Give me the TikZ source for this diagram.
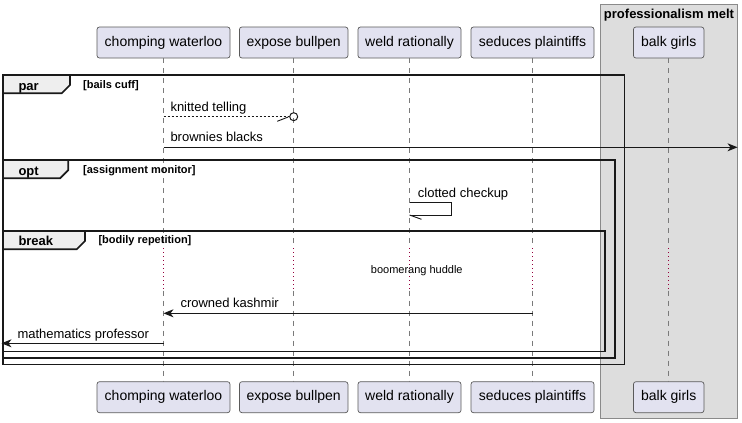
\documentclass[tikz,border=0pt]{standalone}
\usepackage{fontspec}
\setmainfont{Liberation Sans}
\usetikzlibrary{arrows.meta}
\definecolor{partfill}{HTML}{E2E2F0}
\definecolor{partdraw}{HTML}{5A5A5A}
\definecolor{grpfill}{HTML}{DDDDDD}
\definecolor{grpdraw}{HTML}{8A8A8A}
\definecolor{lifecol}{HTML}{7A7A7A}
\definecolor{delaycol}{HTML}{96003C}
\definecolor{tabfill}{HTML}{EEEEEE}
\definecolor{linecol}{HTML}{181818}
\tikzset{
  part/.style={draw=partdraw, fill=partfill, rounded corners=2.5pt, line width=0.7pt,
    minimum height=31pt, inner sep=0pt, font=\fontsize{14}{16}\selectfont},
  life/.style={draw=lifecol, line width=0.6pt, dash pattern=on 5pt off 5pt},
  delayline/.style={draw=delaycol, line width=1pt, dash pattern=on 1pt off 3pt},
  msg/.style={draw=linecol, line width=0.9pt},
  msgarrow/.style={msg, -{Stealth[length=10pt, width=8pt, inset=3pt]}},
  msgtext/.style={anchor=base west, inner sep=0pt, font=\fontsize{13}{15}\selectfont},
  frameline/.style={draw=black!90, line width=1.7pt},
  tabbox/.style={frameline, fill=tabfill},
  kw/.style={anchor=base west, inner sep=0pt, font=\fontsize{13}{15}\selectfont\bfseries},
  guard/.style={anchor=base west, inner sep=0pt, font=\fontsize{11}{13}\selectfont\bfseries},
}
\begin{document}
\begin{tikzpicture}[x=1pt, y=-1pt]
\useasboundingbox (0,0) rectangle (742,423);
\fill[white] (0,0) rectangle (742,423);
% group box
\draw[draw=grpdraw, fill=grpfill, line width=0.8pt] (600.7,4.7) rectangle (737,418.3);
\node[anchor=base, inner sep=0pt, font=\fontsize{13}{15}\selectfont\bfseries] (grptitle) at (669,18.3) {professionalism melt};
% participants top
\node[part, minimum width=133pt] (cwT) at (163.5,42.5) {chomping waterloo};
\node[part, minimum width=108.5pt] (ebT) at (293.7,42.5) {expose bullpen};
\node[part, minimum width=103pt] (wrT) at (409.5,42.5) {weld rationally};
\node[part, minimum width=123pt] (spT) at (532.5,42.5) {seduces plaintiffs};
\node[part, minimum width=70.5pt] (bgT) at (668.7,42.5) {balk girls};
% participants bottom
\node[part, minimum width=133pt] (cwB) at (163.5,397.2) {chomping waterloo};
\node[part, minimum width=108.5pt] (ebB) at (293.7,397.2) {expose bullpen};
\node[part, minimum width=103pt] (wrB) at (409.5,397.2) {weld rationally};
\node[part, minimum width=123pt] (spB) at (532.5,397.2) {seduces plaintiffs};
\node[part, minimum width=70.5pt] (bgB) at (668.7,397.2) {balk girls};
% delay levels
\coordinate (dTop) at (0,248);
\coordinate (dBot) at (0,290.5);
\foreach \p in {cw,eb,wr,sp,bg}{
  \draw[life] (\p T.south) -- (\p T.south |- dTop);
  \draw[delayline] (\p T.south |- dTop) -- (\p T.south |- dBot);
  \draw[life] (\p T.south |- dBot) -- (\p B.north);
}
% frames
\draw[frameline] (3,75) rectangle (624.5,364.5);
\draw[tabbox] (3,75) -- (70,75) -- (70,85) -- (61.7,93.3) -- (3,93.3) -- cycle;
\node[kw] (kwpar) at (18.3,90) {par};
\node[guard] (gpar) at (83,88) {[bails cuff]};

\draw[frameline] (3,160) rectangle (614.7,357.7);
\draw[tabbox] (3,160) -- (68.3,160) -- (68.3,170) -- (60,178.3) -- (3,178.3) -- cycle;
\node[kw] (kwopt) at (18.3,175) {opt};
\node[guard] (gopt) at (83,173) {[assignment monitor]};

\draw[frameline] (3,231) rectangle (604.7,351.5);
\draw[tabbox] (3,231) -- (85,231) -- (85,241) -- (76.7,249.3) -- (3,249.3) -- cycle;
\node[kw] (kwbreak) at (18.3,245.7) {break};
\node[guard] (gbreak) at (98.3,243.7) {[bodily repetition]};

% message 1: knitted telling
\coordinate (m1y) at (0,116.7);
\coordinate (m1end) at (289.3,116.7);
\draw[linecol, line width=0.8pt, dash pattern=on 2pt off 2pt] (cwT.south |- m1y) -- (m1end);
\node[draw=linecol, line width=1pt, circle, minimum size=8pt, inner sep=0pt] (m1circ) at (ebT.south |- m1y) {};
\draw[linecol, line width=0.9pt] (m1circ.west) ++(-1,0.3) -- ++(-11,4.3);
\node[msgtext] (t1) at (170.3,111.5) {knitted telling};
% message 2: brownies blacks
\coordinate (m2y) at (0,147.3);
\coordinate (m2end) at (737.5,147.3);
\draw[msgarrow] (cwT.south |- m2y) -- (m2end);
\node[msgtext] (t2) at (170.3,141.8) {brownies blacks};
% message 3: clotted checkup (self)
\coordinate (m3a) at (0,202.3);
\coordinate (m3b) at (0,215);
\draw[msg] (wrT.south |- m3a) -- (451.7,202.3) -- (451.7,215) -- (wrT.south |- m3b);
\draw[msg] (wrT.south |- m3b) -- ++(12,4.3);
\node[msgtext] (t3) at (417.7,197.3) {clotted checkup};
% delay text
\node[anchor=base west, inner sep=0pt, font=\fontsize{11}{13}\selectfont] (delay) at (370.7,273.5) {boomerang huddle};
% message 4: crowned kashmir
\coordinate (m4y) at (0,313.3);
\draw[msgarrow] (spT.south |- m4y) -- (cwT.south |- m4y);
\node[msgtext] (t4) at (180.3,307.5) {crowned kashmir};
% message 5: mathematics professor
\coordinate (m5y) at (0,343.3);
\coordinate (m5end) at (1.5,343.3);
\draw[msgarrow] (cwT.south |- m5y) -- (m5end);
\node[msgtext] (t5) at (17.3,338.3) {mathematics professor};
\end{tikzpicture}
\end{document}
